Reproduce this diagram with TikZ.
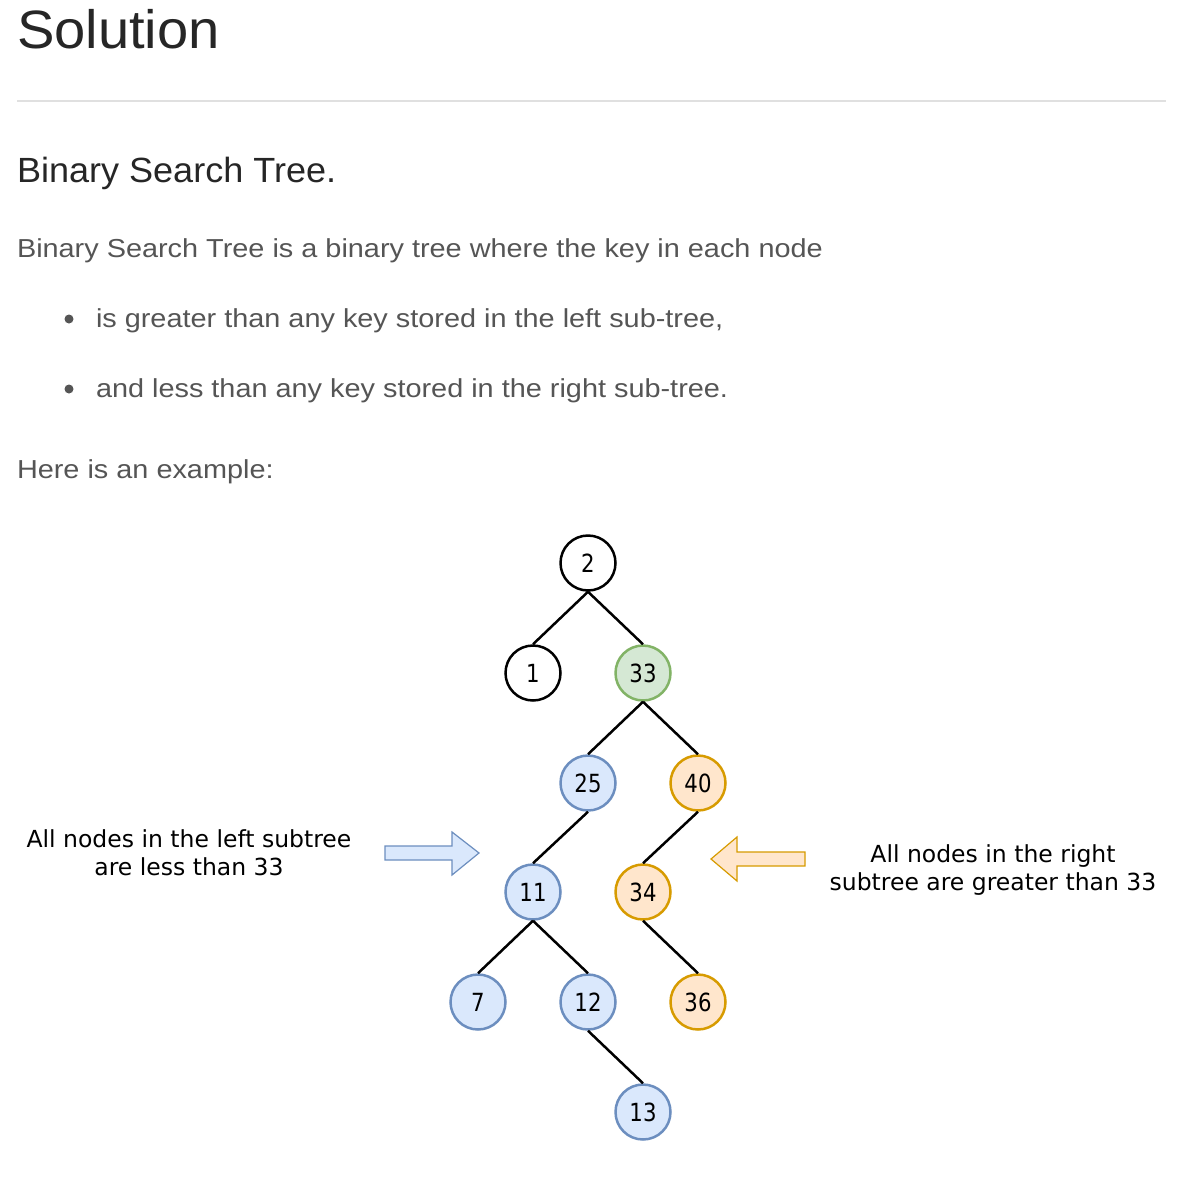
\documentclass[tikz,border=0pt]{standalone}
\usepackage{fontspec}
\setmainfont{Liberation Sans}
\newfontfamily\headfont[FakeStretch=1.04]{Liberation Sans}
\newfontfamily\subfont[FakeStretch=1.03]{Liberation Sans}
\newfontfamily\bodyfont[FakeStretch=1.11]{Liberation Sans}
\newfontfamily\diagfont{DejaVu Sans}
\newfontfamily\digitfont[FakeStretch=0.85]{DejaVu Sans}
\definecolor{headc}{HTML}{262626}
\definecolor{bodyc}{HTML}{555555}
\definecolor{rulec}{HTML}{E0E0E0}
\definecolor{gfill}{HTML}{D5E8D4}
\definecolor{gline}{HTML}{82B366}
\definecolor{bfill}{HTML}{DAE8FC}
\definecolor{bline}{HTML}{6C8EBF}
\definecolor{ofill}{HTML}{FFE6CC}
\definecolor{oline}{HTML}{D79B00}
\tikzset{
  txt/.style={anchor=base west, inner sep=0pt, outer sep=0pt},
  bodytxt/.style={txt, text=bodyc, font=\bodyfont\fontsize{26}{30}\selectfont},
  bst/.style={circle, draw=black, line width=2.5pt, minimum size=55pt, inner sep=0pt, font=\digitfont\fontsize{25}{27}\selectfont},
  plain/.style={bst, fill=white},
  green/.style={bst, draw=gline, fill=gfill},
  blue/.style={bst, draw=bline, fill=bfill},
  orange/.style={bst, draw=oline, fill=ofill},
  edge/.style={draw=black, line width=2.5pt},
  note/.style={align=center, inner sep=0pt, font=\diagfont\fontsize{23.5}{28}\selectfont},
}
\begin{document}
\begin{tikzpicture}[x=1pt,y=-1pt]
\useasboundingbox (0,0) rectangle (1200,1202);
\fill[white] (0,0) rectangle (1200,1202);
% header text
\node[txt, text=headc, font=\headfont\fontsize{54}{60}\selectfont] (title) at (17,48) {Solution};
\coordinate (rl) at (17,101);
\coordinate (rr) at (1166,101);
\draw[rulec, line width=1.5pt] (rl) -- (rr);
\node[txt, text=headc, font=\subfont\fontsize{35}{40}\selectfont] (sub) at (17,182) {Binary Search Tree.};
\node[bodytxt] (p1) at (17,257) {Binary Search Tree is a binary tree where the key in each node};
\fill[bodyc] (69,319) circle (4.5pt);
\node[bodytxt] (b1) at (96,327) {is greater than any key stored in the left sub-tree,};
\fill[bodyc] (69,389) circle (4.5pt);
\node[bodytxt] (b2) at (96,397) {and less than any key stored in the right sub-tree.};
\node[bodytxt] (p2) at (17,478) {Here is an example:};
% tree
\node[plain]  (n2)  at (588,563)  {2};
\node[plain]  (n1)  at (533,673)  {1};
\node[green]  (n33) at (643,673)  {33};
\node[blue]   (n25) at (588,783)  {25};
\node[orange] (n40) at (698,783)  {40};
\node[blue]   (n11) at (533,892)  {11};
\node[orange] (n34) at (643,892)  {34};
\node[blue]   (n7)  at (478,1002) {7};
\node[blue]   (n12) at (588,1002) {12};
\node[orange] (n36) at (698,1002) {36};
\node[blue]   (n13) at (643,1112) {13};
\draw[edge] (n2.south) -- (n1.north);
\draw[edge] (n2.south) -- (n33.north);
\draw[edge] (n33.south) -- (n25.north);
\draw[edge] (n33.south) -- (n40.north);
\draw[edge] (n25.south) -- (n11.north);
\draw[edge] (n40.south) -- (n34.north);
\draw[edge] (n11.south) -- (n7.north);
\draw[edge] (n11.south) -- (n12.north);
\draw[edge] (n34.south) -- (n36.north);
\draw[edge] (n12.south) -- (n13.north);
% arrows
\draw[bline, fill=bfill, line width=1.2pt, line join=miter]
  (385,846) -- (452,846) -- (452,832) -- (479,853) -- (452,875) -- (452,860) -- (385,860) -- cycle;
\draw[oline, fill=ofill, line width=1.2pt, line join=miter]
  (805,852) -- (737,852) -- (737,837) -- (711,859) -- (737,881) -- (737,866) -- (805,866) -- cycle;
% notes
\node[note, anchor=base] (lt1) at (189,847) {All nodes in the left subtree};
\node[note, anchor=base] (lt2) at (189,875) {are less than 33};
\node[note, anchor=base] (rt1) at (993,862) {All nodes in the right};
\node[note, anchor=base] (rt2) at (993,890) {subtree are greater than 33};
\end{tikzpicture}
\end{document}
